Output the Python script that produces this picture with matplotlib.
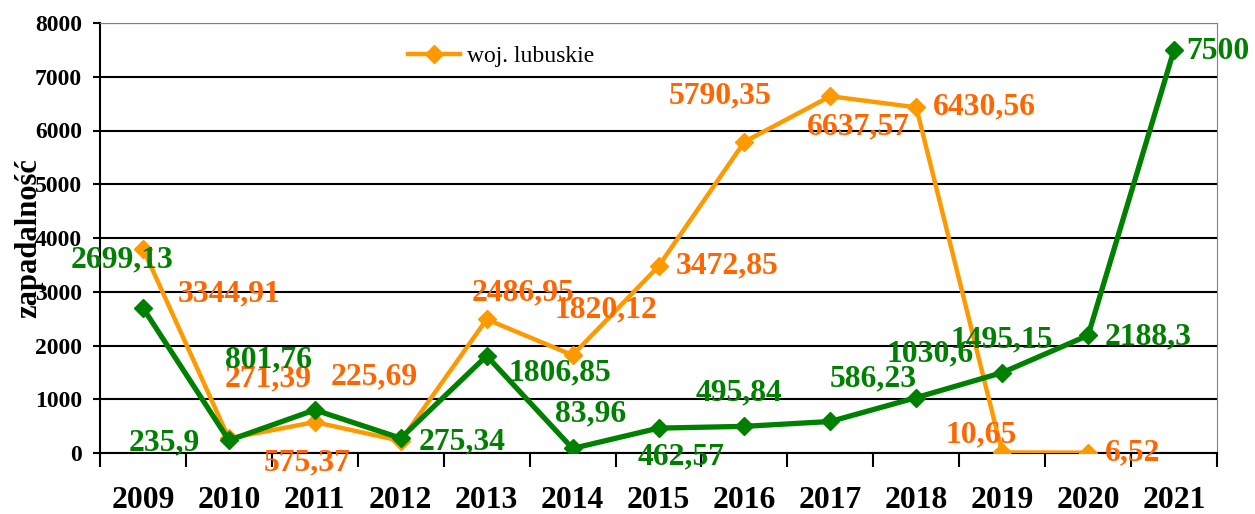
import numpy as np
import matplotlib.pyplot as plt
from matplotlib.ticker import FixedLocator, NullFormatter

years = ['2009', '2010', '2011', '2012', '2013', '2014', '2015',
         '2016', '2017', '2018', '2019', '2020', '2021']

# woj. lubuskie (brak danych za 2021)
lubuskie = [3800, 271.39, 575.37, 225.69, 2486.95, 1820.12, 3472.85,
            5790.35, 6637.57, 6430.56, 10.65, 6.52, np.nan]
lubuskie_labels = ['3344,91', '271,39', '575,37', '225,69', '2486,95', '1820,12',
                   '3472,85', '5790,35', '6637,57', '6430,56', '10,65', '6,52', '']

# druga seria (zielona)
zielona = [2699.13, 235.9, 801.76, 275.34, 1806.85, 83.96, 462.57,
           495.84, 586.23, 1030.6, 1495.15, 2188.3, 7500]
zielona_labels = ['2699,13', '235,9', '801,76', '275,34', '1806,85', '83,96',
                  '462,57', '495,84', '586,23', '1030,6', '1495,15', '2188,3', '7500']

# przesuniecia etykiet w pikselach (dx, dy)
off_orange = [(86, -45), (39, 60), (-8, -41), (-27, 64), (36, 26), (33, 45),
              (69, 0), (-24, 46), (28, -31), (68, 0), (-21, 18), (45, 0), (0, 0)]
off_green = [(-21, 48), (-65, -3), (-46, 50), (61, -4), (73, -17), (18, 35),
             (23, -29), (-5, 33), (43, 43), (14, 44), (0, 33), (60, -2), (44, -2)]

ORANGE = '#FF9900'
ORANGE_TXT = '#FF6600'
GREEN = '#008000'

plt.rcParams['font.family'] = ['Liberation Serif', 'DejaVu Serif']

fig = plt.figure(figsize=(12.55, 5.14), dpi=100)
ax = fig.add_axes([100 / 1255, 61 / 514, 1117 / 1255, 430 / 514])

x = np.arange(len(years))
ax.plot(x, lubuskie, color=ORANGE, lw=3.2, marker='D', ms=9, label='woj. lubuskie', zorder=3)
ax.plot(x, zielona, color=GREEN, lw=3.8, marker='D', ms=9, label='_nolegend_', zorder=4)

for i in range(len(years)):
    if lubuskie_labels[i]:
        ax.annotate(lubuskie_labels[i], (x[i], lubuskie[i]), xytext=off_orange[i],
                    textcoords='offset pixels', ha='center', va='center',
                    color=ORANGE_TXT, fontsize=22.8, fontweight='bold', zorder=5)
    ax.annotate(zielona_labels[i], (x[i], zielona[i]), xytext=off_green[i],
                textcoords='offset pixels', ha='center', va='center',
                color=GREEN, fontsize=22.8, fontweight='bold', zorder=5)

ax.set_xlim(-0.5, len(years) - 0.5)
ax.set_ylim(0, 8000)
ax.set_yticks(range(0, 8001, 1000))
ax.tick_params(axis='y', labelsize=17, length=5, width=1.5, pad=8)
for lab in ax.get_yticklabels():
    lab.set_fontweight('bold')

ax.set_xticks(x)
ax.set_xticklabels(years, fontsize=22.8, fontweight='bold')
ax.tick_params(axis='x', which='major', length=0, pad=24)
ax.xaxis.set_minor_locator(FixedLocator(np.arange(-0.5, len(years), 1)))
ax.xaxis.set_minor_formatter(NullFormatter())
ax.tick_params(axis='x', which='minor', length=10, width=1.5)

ax.yaxis.grid(True, color='black', lw=1.5)
ax.set_axisbelow(True)
ax.spines['left'].set_linewidth(1.5)
ax.spines['bottom'].set_linewidth(1.5)
ax.spines['top'].set_color('#808080')
ax.spines['right'].set_color('#808080')

ax.set_ylabel('zapadalność', fontsize=22, fontweight='bold', labelpad=-6)

ax.legend(loc='upper left', bbox_to_anchor=(0.265, 0.975), frameon=False,
          fontsize=17, handlelength=2.2, handletextpad=0.3, borderpad=0)

fig.savefig('out.png', dpi=100)
